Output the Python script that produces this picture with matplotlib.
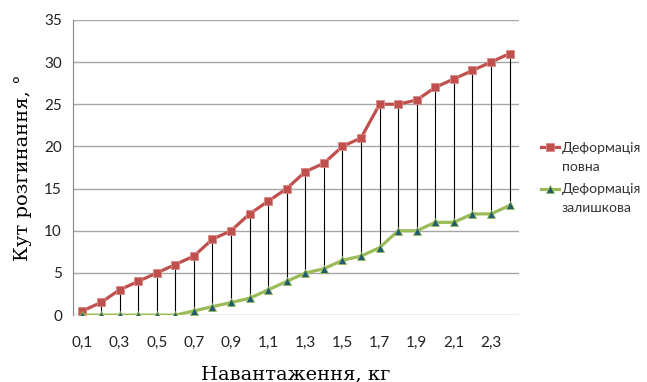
import matplotlib.pyplot as plt
import numpy as np

# навантаження, кг
loads = [0.1, 0.2, 0.3, 0.4, 0.5, 0.6, 0.7, 0.8, 0.9, 1.0, 1.1, 1.2,
         1.3, 1.4, 1.5, 1.6, 1.7, 1.8, 1.9, 2.0, 2.1, 2.2, 2.3, 2.4]
# кут розгинання, градуси
full_def = [0.5, 1.5, 3, 4, 5, 6, 7, 9, 10, 12, 13.5, 15,
            17, 18, 20, 21, 25, 25, 25.5, 27, 28, 29, 30, 31]
resid_def = [0, 0, 0, 0, 0, 0, 0.5, 1, 1.5, 2, 3, 4,
             5, 5.5, 6.5, 7, 8, 10, 10, 11, 11, 12, 12, 13]
legend_first = ['Деформація', 'Деформація']
legend_second = ['повна', 'залишкова']

tick_font = 'Lato'
label_font = 'DejaVu Serif'

fig = plt.figure(figsize=(6.47, 3.82), dpi=100)
ax = fig.add_axes([0.113, 0.175, 0.689, 0.773])

x = np.arange(len(loads))

# вертикальні лінії між серіями
ax.vlines(x, resid_def, full_def, color='black', lw=0.8, zorder=2)

ax.plot(x, full_def, color='#c0504d', lw=2.3, marker='s', ms=6,
        mfc='#c0504d', mec='#d98a88', mew=0.6, zorder=3, label=legend_first[0])
ax.plot(x, resid_def, color='#9bbb59', lw=2.3, marker='^', ms=6,
        mfc='#1f5a6e', mec='#9bbb59', mew=0.6, zorder=3, label=legend_first[1])

ax.set_xlim(-0.5, len(loads) - 0.5)
ax.set_ylim(0, 35)
ax.set_yticks(np.arange(0, 36, 5))
ax.yaxis.grid(True, color='#a6a6a6', lw=1.0)
ax.set_axisbelow(True)

ax.set_xticks(x[::2])
ax.set_xticklabels([f'{v:.1f}'.replace('.', ',') for v in loads[::2]])
ax.tick_params(axis='both', length=0, labelsize=11, labelcolor='#222222')
ax.tick_params(axis='x', pad=15)
ax.tick_params(axis='y', pad=8)
for lbl in ax.get_xticklabels() + ax.get_yticklabels():
    lbl.set_family(tick_font)

for side in ['top', 'right', 'bottom']:
    ax.spines[side].set_visible(False)
ax.spines['left'].set_color('#868686')

ax.set_xlabel('Навантаження, кг', family=label_font, fontsize=14, labelpad=11)
ax.set_ylabel('Кут розгинання, °', family=label_font, fontsize=14, labelpad=9)

# легенда: значок біля першого рядка, другий рядок окремим текстом
handles, labels = ax.get_legend_handles_labels()
leg = fig.legend(handles, labels, loc='center left', bbox_to_anchor=(0.836, 0.558),
                 frameon=False, prop={'family': tick_font, 'size': 10},
                 handlelength=1.3, handletextpad=0.2, labelspacing=2.1,
                 borderpad=0, borderaxespad=0)
for t in leg.get_texts():
    t.set_color('#333333')

fig.canvas.draw()
W, H = fig.bbox.width, fig.bbox.height
for t, s in zip(leg.get_texts(), legend_second):
    bb = t.get_window_extent()
    fig.text(bb.x0 / W, (bb.y0 - 19) / H, s, family=tick_font, fontsize=10,
             color='#333333', ha='left', va='bottom')

fig.savefig('out.png', dpi=100)
